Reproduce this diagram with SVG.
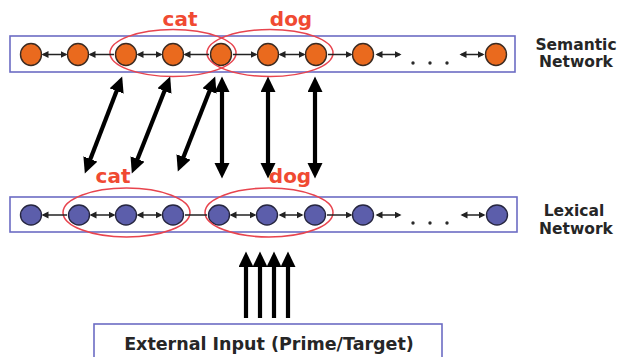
<svg xmlns="http://www.w3.org/2000/svg" width="617" height="357" viewBox="0 0 617 357">
  <style>
    .bar { fill: #ffffff; stroke: #6c6cc4; stroke-width: 1.6; }
    .sem { fill: #ea6a1e; stroke: #3b2b22; stroke-width: 1.4; }
    .lex { fill: #5c5eab; stroke: #262640; stroke-width: 1.4; }
    .group { fill: none; stroke: #e8444e; stroke-width: 1.5; }
    .word { font-family: "DejaVu Sans", Verdana, sans-serif; font-weight: bold; font-size: 20px; fill: #f04a32; text-anchor: middle; }
    .label { font-family: "DejaVu Sans", Verdana, sans-serif; font-weight: bold; font-size: 15.5px; fill: #262626; text-anchor: middle; }
    .input-label { font-size: 17.5px; }
    .link { stroke: #222222; stroke-width: 1.5; fill: none; }
    .big { stroke: #000000; stroke-width: 4.2; fill: none; }
    .dot { fill: #2a2a2a; }
  </style>
  <defs>
    <marker id="tip" markerUnits="userSpaceOnUse" markerWidth="9" markerHeight="9" refX="5.5" refY="3.5" orient="auto-start-reverse">
      <path d="M0,0 L7,3.5 L0,7 z" fill="#222222"/>
    </marker>
    <marker id="head" markerUnits="userSpaceOnUse" markerWidth="18" markerHeight="16" refX="4" refY="7.5" orient="auto-start-reverse">
      <path d="M0,0 L15.5,7.5 L0,15 z" fill="#000000"/>
    </marker>
  </defs>

  <!-- semantic layer -->
  <g id="semantic-network">
    <rect class="bar" x="10" y="36" width="505" height="36"/>
    <ellipse class="sem" cx="31" cy="54.5" rx="10.5" ry="11"/>
    <ellipse class="sem" cx="78" cy="54.5" rx="10.5" ry="11"/>
    <ellipse class="sem" cx="126" cy="54.5" rx="10.5" ry="11"/>
    <ellipse class="sem" cx="173" cy="54.5" rx="10.5" ry="11"/>
    <ellipse class="sem" cx="221" cy="54.5" rx="10.5" ry="11"/>
    <ellipse class="sem" cx="268" cy="54.5" rx="10.5" ry="11"/>
    <ellipse class="sem" cx="316" cy="54.5" rx="10.5" ry="11"/>
    <ellipse class="sem" cx="363" cy="54.5" rx="10.5" ry="11"/>
    <ellipse class="sem" cx="496" cy="54.5" rx="10.5" ry="11"/>
    <circle class="dot" cx="413" cy="63" r="1.7"/>
    <circle class="dot" cx="430" cy="63" r="1.7"/>
    <circle class="dot" cx="447" cy="63" r="1.7"/>
    <text class="label" x="576" y="50">Semantic</text>
    <text class="label" x="576" y="67">Network</text>
  </g>

  <!-- lexical layer -->
  <g id="lexical-network">
    <rect class="bar" x="10" y="197" width="507" height="35"/>
    <ellipse class="lex" cx="31" cy="215" rx="10.5" ry="10"/>
    <ellipse class="lex" cx="79" cy="215" rx="10.5" ry="10"/>
    <ellipse class="lex" cx="126" cy="215" rx="10.5" ry="10"/>
    <ellipse class="lex" cx="173" cy="215" rx="10.5" ry="10"/>
    <ellipse class="lex" cx="219" cy="215" rx="10.5" ry="10"/>
    <ellipse class="lex" cx="267" cy="215" rx="10.5" ry="10"/>
    <ellipse class="lex" cx="315" cy="215" rx="10.5" ry="10"/>
    <ellipse class="lex" cx="363" cy="215" rx="10.5" ry="10"/>
    <ellipse class="lex" cx="497" cy="215" rx="10.5" ry="10"/>
    <circle class="dot" cx="413" cy="223" r="1.7"/>
    <circle class="dot" cx="430" cy="223" r="1.7"/>
    <circle class="dot" cx="447" cy="223" r="1.7"/>
    <text class="label" x="574" y="216">Lexical</text>
    <text class="label" x="576" y="234">Network</text>
  </g>

  <!-- word groupings -->
  <g id="word-cat-semantic">
    <ellipse class="group" cx="173" cy="53" rx="63" ry="23.5"/>
    <text class="word" x="180" y="26">cat</text>
  </g>
  <g id="word-dog-semantic">
    <ellipse class="group" cx="270" cy="53" rx="63" ry="23.5"/>
    <text class="word" x="291" y="26">dog</text>
  </g>
  <g id="word-cat-lexical">
    <ellipse class="group" cx="126.5" cy="212.5" rx="63.5" ry="24.5"/>
    <text class="word" x="113" y="183">cat</text>
  </g>
  <g id="word-dog-lexical">
    <ellipse class="group" cx="269" cy="212.5" rx="64" ry="24.5"/>
    <text class="word" x="290" y="183">dog</text>
  </g>

  <!-- external input -->
  <g id="external-input">
    <rect class="bar" x="94" y="324" width="348" height="40"/>
    <text class="label input-label" x="269" y="350">External Input (Prime/Target)</text>
  </g>

  <g id="connectors">
    <!-- semantic chain -->
    <line class="link" x1="43" y1="54.5" x2="66" y2="54.5" marker-start="url(#tip)" marker-end="url(#tip)"/>
    <line class="link" x1="90" y1="54.5" x2="114" y2="54.5" marker-start="url(#tip)"/>
    <line class="link" x1="138" y1="54.5" x2="161" y2="54.5" marker-start="url(#tip)" marker-end="url(#tip)"/>
    <line class="link" x1="185" y1="54.5" x2="209" y2="54.5" marker-start="url(#tip)"/>
    <line class="link" x1="233" y1="54.5" x2="256" y2="54.5" marker-end="url(#tip)"/>
    <line class="link" x1="280" y1="54.5" x2="304" y2="54.5" marker-start="url(#tip)" marker-end="url(#tip)"/>
    <line class="link" x1="328" y1="54.5" x2="351" y2="54.5" marker-end="url(#tip)"/>
    <line class="link" x1="377" y1="54.5" x2="400" y2="54.5" marker-start="url(#tip)" marker-end="url(#tip)"/>
    <line class="link" x1="461" y1="54.5" x2="483" y2="54.5" marker-start="url(#tip)" marker-end="url(#tip)"/>

    <!-- lexical chain -->
    <line class="link" x1="43" y1="215" x2="67" y2="215" marker-start="url(#tip)"/>
    <line class="link" x1="91" y1="215" x2="114" y2="215" marker-start="url(#tip)" marker-end="url(#tip)"/>
    <line class="link" x1="138" y1="215" x2="161" y2="215" marker-start="url(#tip)" marker-end="url(#tip)"/>
    <line class="link" x1="185" y1="215" x2="207" y2="215"/>
    <line class="link" x1="231" y1="215" x2="255" y2="215" marker-start="url(#tip)" marker-end="url(#tip)"/>
    <line class="link" x1="280" y1="215" x2="302" y2="215" marker-start="url(#tip)" marker-end="url(#tip)"/>
    <line class="link" x1="327" y1="215" x2="351" y2="215" marker-end="url(#tip)"/>
    <line class="link" x1="377" y1="215" x2="400" y2="215" marker-start="url(#tip)" marker-end="url(#tip)"/>
    <line class="link" x1="462" y1="215" x2="484" y2="215" marker-start="url(#tip)" marker-end="url(#tip)"/>

    <!-- semantic to lexical -->
    <line class="big" x1="118.04" y1="87.26" x2="88.96" y2="162.74" marker-start="url(#head)" marker-end="url(#head)"/>
    <line class="big" x1="165.95" y1="87.23" x2="136.05" y2="162.77" marker-start="url(#head)" marker-end="url(#head)"/>
    <line class="big" x1="210.97" y1="87.24" x2="182.03" y2="160.76" marker-start="url(#head)" marker-end="url(#head)"/>
    <line class="big" x1="222" y1="88" x2="222" y2="167" marker-start="url(#head)" marker-end="url(#head)"/>
    <line class="big" x1="268" y1="88" x2="268" y2="167" marker-start="url(#head)" marker-end="url(#head)"/>
    <line class="big" x1="315" y1="88" x2="315" y2="167" marker-start="url(#head)" marker-end="url(#head)"/>

    <!-- input to lexical -->
    <line class="big" x1="246" y1="318" x2="246" y2="263" marker-end="url(#head)"/>
    <line class="big" x1="260" y1="318" x2="260" y2="263" marker-end="url(#head)"/>
    <line class="big" x1="274" y1="318" x2="274" y2="263" marker-end="url(#head)"/>
    <line class="big" x1="288" y1="318" x2="288" y2="263" marker-end="url(#head)"/>
  </g>
</svg>
